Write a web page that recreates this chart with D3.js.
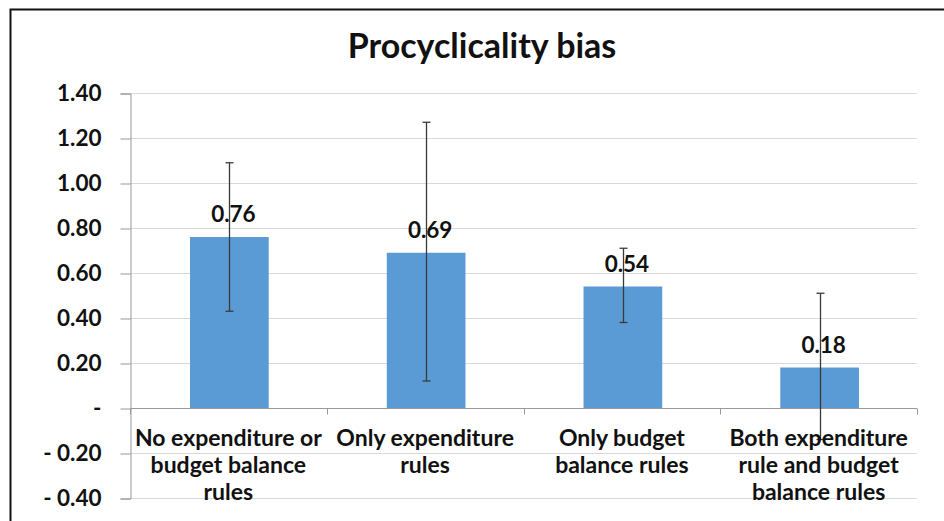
<!DOCTYPE html>
<html>
<head>
<meta charset="utf-8">
<script src="https://cdn.jsdelivr.net/npm/d3@7"></script>
<style>
  html, body { margin: 0; padding: 0; background: #fff; }
  svg { display: block; }
  text { font-family: Lato, "Open Sans", sans-serif; font-weight: bold; fill: #111; }
</style>
</head>
<body>
<div id="chart"></div>
<script>
// ---- data ----
const categories = [
  ["No expenditure or", "budget balance", "rules"],
  ["Only expenditure", "rules"],
  ["Only budget", "balance rules"],
  ["Both expenditure", "rule and budget", "balance rules"]
];
const values = [0.76, 0.69, 0.54, 0.18];
const errLow = [0.43, 0.12, 0.38, -0.14];
const errHigh = [1.09, 1.27, 0.71, 0.51];
const valueLabels = ["0.76", "0.69", "0.54", "0.18"];
const yTicks = [-0.4, -0.2, 0, 0.2, 0.4, 0.6, 0.8, 1.0, 1.2, 1.4];
const yTickLabels = ["- 0.40", "- 0.20", "-", "0.20", "0.40", "0.60", "0.80", "1.00", "1.20", "1.40"];
const title = "Procyclicality bias";

// ---- layout ----
const W = 944, H = 521;
const plotL = 130, plotR = 917, plotT = 93, plotB = 498;

const svg = d3.select("#chart").append("svg").attr("width", W).attr("height", H);
svg.append("rect").attr("width", W).attr("height", H).attr("fill", "#fff");

// frame
svg.append("path").attr("d", `M10.5,${H} L10.5,9.5 L${W},9.5`)
  .attr("fill", "none").attr("stroke", "#111").attr("stroke-width", 2);

const x = d3.scaleBand().domain(d3.range(categories.length)).range([plotL, plotR]).padding(0);
const y = d3.scaleLinear().domain([-0.4, 1.4]).range([plotB, plotT]);

// title
svg.append("text").attr("x", 482).attr("y", 58).attr("text-anchor", "middle")
  .attr("font-size", 34).text(title);

// gridlines
svg.append("g").selectAll("line").data(yTicks.filter(d => d !== 0)).join("line")
  .attr("x1", plotL).attr("x2", plotR)
  .attr("y1", d => Math.round(y(d)) + 0.5).attr("y2", d => Math.round(y(d)) + 0.5)
  .attr("stroke", "#d9d9d9").attr("stroke-width", 1);

// y axis
const yAxis = d3.axisLeft(y).tickValues(yTicks).tickSize(10)
  .tickFormat((d, i) => yTickLabels[i]);
const gy = svg.append("g").attr("transform", `translate(${plotL + 0.5},0.5)`).call(yAxis);
gy.select(".domain").attr("stroke", "#999");
gy.selectAll(".tick line").attr("stroke", "#999");
gy.selectAll(".tick text").attr("x", -29).attr("font-size", 22.5)
  .style("font-family", "Lato, sans-serif").style("font-weight", "bold").attr("fill", "#111");

// bars
const barW = x.bandwidth() * 0.4;
svg.append("g").selectAll("rect").data(values).join("rect")
  .attr("x", (d, i) => x(i) + (x.bandwidth() - barW) / 2 + 1)
  .attr("width", barW)
  .attr("y", d => y(Math.max(0, d)))
  .attr("height", d => Math.abs(y(d) - y(0)))
  .attr("fill", "#5b9bd5");

// x axis (zero line) with band boundary ticks
const zeroY = Math.round(y(0)) + 0.5;
svg.append("line").attr("x1", plotL).attr("x2", plotR).attr("y1", zeroY).attr("y2", zeroY)
  .attr("stroke", "#999");
svg.append("g").selectAll("line").data(d3.range(categories.length + 1)).join("line")
  .attr("x1", i => Math.round(plotL + i * x.step()) + 0.5)
  .attr("x2", i => Math.round(plotL + i * x.step()) + 0.5)
  .attr("y1", zeroY).attr("y2", zeroY + 6).attr("stroke", "#999");

// error bars
const eb = svg.append("g").attr("stroke", "#3a3a3a").attr("stroke-width", 1.3);
values.forEach((v, i) => {
  const cx = Math.round(x(i) + x.bandwidth() / 2) + 1.5;
  eb.append("line").attr("x1", cx).attr("x2", cx).attr("y1", y(errLow[i])).attr("y2", y(errHigh[i]));
  eb.append("line").attr("x1", cx - 4).attr("x2", cx + 4).attr("y1", y(errLow[i])).attr("y2", y(errLow[i]));
  eb.append("line").attr("x1", cx - 4).attr("x2", cx + 4).attr("y1", y(errHigh[i])).attr("y2", y(errHigh[i]));
});

// value labels
svg.append("g").selectAll("text").data(values).join("text")
  .attr("x", (d, i) => x(i) + x.bandwidth() / 2 + 5)
  .attr("y", d => y(d) - 15)
  .attr("text-anchor", "middle").attr("font-size", 22.5)
  .text((d, i) => valueLabels[i]);

// category labels
const cl = svg.append("g");
categories.forEach((lines, i) => {
  const t = cl.append("text").attr("text-anchor", "middle").attr("font-size", 23);
  lines.forEach((ln, j) => {
    t.append("tspan").attr("x", x(i) + x.bandwidth() / 2).attr("y", 446 + j * 27).text(ln);
  });
});
</script>
</body>
</html>
